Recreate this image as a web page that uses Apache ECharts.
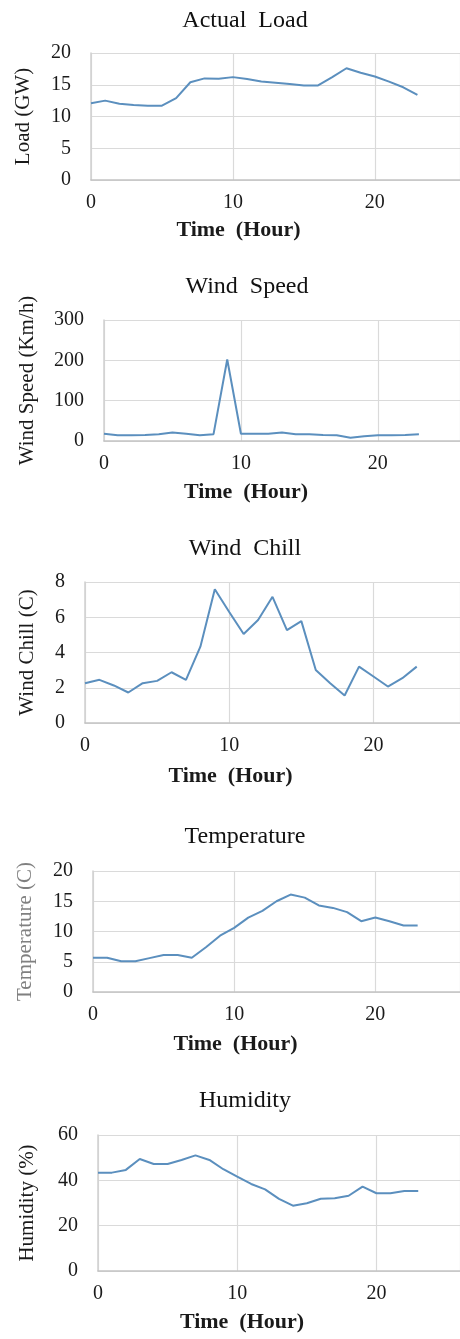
<!DOCTYPE html>
<html>
<head>
<meta charset="utf-8">
<script src="https://cdn.jsdelivr.net/npm/echarts@6/dist/echarts.min.js"></script>
<style>
html,body{margin:0;padding:0;background:#fff;}
#chart{width:460px;height:1339px;}
</style>
</head>
<body>
<div id="chart"></div>
<script>
const hours = [0,1,2,3,4,5,6,7,8,9,10,11,12,13,14,15,16,17,18,19,20,21,22,23];
const loadGW = [12.1,12.5,12.0,11.8,11.7,11.7,12.9,15.4,16.0,15.95,16.2,15.9,15.5,15.3,15.1,14.9,14.9,16.2,17.6,16.9,16.3,15.5,14.6,13.4];
const windSpeed = [18,14,14,15,17,21,18,14,17,202,18,18,18,21,17,17,15,14,8,12,14,14,15,17];
const windChill = [2.26,2.45,2.13,1.73,2.26,2.39,2.88,2.45,4.33,7.59,6.3,5.05,5.84,7.16,5.27,5.78,3.01,2.26,1.56,3.2,2.64,2.07,2.54,3.2];
const temperature = [5.67,5.67,5.07,5.07,5.6,6.1,6.1,5.67,7.4,9.3,10.6,12.3,13.4,15.0,16.1,15.6,14.3,13.9,13.2,11.7,12.3,11.7,11.0,11.0];
const humidity = [43.4,43.4,44.6,49.4,47.2,47.2,49.0,51.0,49.0,44.9,41.6,38.4,36.0,31.8,28.8,29.9,31.9,32.1,33.2,37.2,34.3,34.3,35.3,35.3];

const titles = ['Actual  Load','Wind  Speed','Wind  Chill','Temperature','Humidity'];
const yNames = ['Load (GW)','Wind Speed (Km/h)','Wind Chill (C)','Temperature (C)','Humidity (%)'];
const yMax = [20,300,8,20,60];
const yStep = [5,100,2,5,20];
const xName = 'Time  (Hour)';
const seriesData = [loadGW, windSpeed, windChill, temperature, humidity];

const FONT = '"Liberation Serif", "Times New Roman", serif';
const grids = [
  {left:91, top:53, right:-15, height:127},
  {left:104, top:320, right:-14, height:121},
  {left:85, top:582, right:-12, height:141},
  {left:93, top:871, right:-10, height:121},
  {left:98, top:1135, right:-10, height:136}
];
const titleTops = [9, 275, 537, 825, 1089];
const titleX = [245, 247, 245, 245, 245];
const yNameGaps = [57, 66, 47, 57, 60];
const xNameGaps = [39, 40, 42, 41, 40];
const xNamePad = [74, 72, 84, 82, 74];
const yNameColors = ['#1a1a1a','#1a1a1a','#1a1a1a','#808080','#1a1a1a'];

const option = {
  animation:false,
  backgroundColor:'#ffffff',
  title: titles.map((t,i)=>({
    text:t, left:titleX[i], top:titleTops[i], textAlign:'center', padding:0,
    textStyle:{fontFamily:FONT, fontSize:24, fontWeight:'normal', color:'#111'}
  })),
  grid: grids,
  xAxis: grids.map((g,i)=>({
    type:'value', gridIndex:i, min:0, max:26, interval:10,
    name:xName, nameLocation:'middle', nameGap:xNameGaps[i],
    nameTextStyle:{fontFamily:FONT, fontSize:22, fontWeight:'bold', color:'#1a1a1a', padding:[0,xNamePad[i],0,0]},
    axisLine:{show:true, lineStyle:{color:'#c4c4c4', width:1.5}},
    axisTick:{show:false},
    axisLabel:{fontFamily:FONT, fontSize:20, color:'#1a1a1a', margin:13, showMaxLabel:false},
    splitLine:{show:true, lineStyle:{color:'#dadada', width:1.2}}
  })),
  yAxis: grids.map((g,i)=>({
    type:'value', gridIndex:i, min:0, max:yMax[i], interval:yStep[i],
    name:yNames[i], nameLocation:'middle', nameRotate:90, nameGap:yNameGaps[i],
    nameTextStyle:{fontFamily:FONT, fontSize:21, color:yNameColors[i]},
    axisLine:{show:true, lineStyle:{color:'#d0d0d0', width:1.5}},
    axisTick:{show:false},
    axisLabel:{fontFamily:FONT, fontSize:20, color:'#1a1a1a', margin:20},
    splitLine:{show:true, lineStyle:{color:'#dadada', width:1.2}}
  })),
  series: seriesData.map((d,i)=>({
    type:'line', xAxisIndex:i, yAxisIndex:i,
    data: hours.map((h,k)=>[h, d[k]]),
    showSymbol:false, symbol:'none',
    lineStyle:{color:'#5b8fbe', width:2},
    itemStyle:{color:'#5b8fbe'}
  }))
};
const chart = echarts.init(document.getElementById('chart'), null, {renderer:'canvas'});
chart.setOption(option);
</script>
</body>
</html>
